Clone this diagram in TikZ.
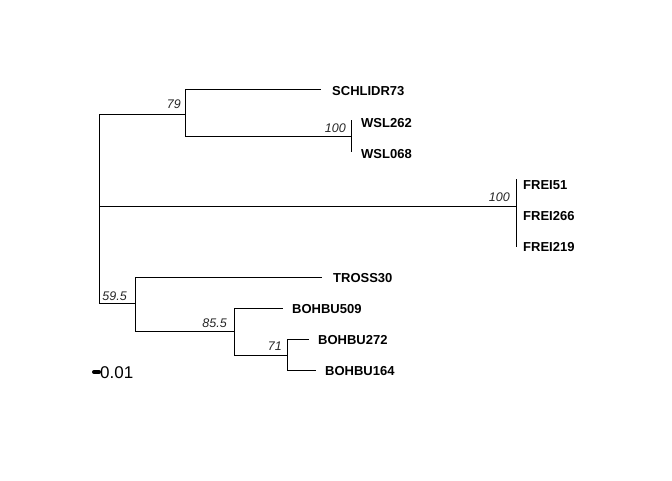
\documentclass[tikz,border=0pt]{standalone}
\usepackage{fontspec}
\setmainfont{Liberation Sans}
\begin{document}
\begin{tikzpicture}[x=1pt,y=-1pt,
  br/.style={draw=black,line width=0.9pt},
  tip/.style={anchor=west,font=\fontsize{13}{15}\selectfont\bfseries,inner sep=0pt},
  boot/.style={anchor=south east,font=\fontsize{12.5}{14}\selectfont\itshape,inner sep=0pt,text=black!85},
  scl/.style={anchor=west,font=\fontsize{17}{19}\selectfont,inner sep=0pt}]
\useasboundingbox (0,0) rectangle (672,480);
% node coordinates
\coordinate (root) at (99,206);
\coordinate (rt) at (99,114);
\coordinate (rb) at (99,303);
\coordinate (a) at (185,114);
\coordinate (at) at (185,89);
\coordinate (ab) at (185,136);
\coordinate (w) at (351,136);
\coordinate (wt) at (351,120);
\coordinate (wb) at (351,152);
\coordinate (s) at (321,89);
\coordinate (f) at (516,206);
\coordinate (ft) at (516,179);
\coordinate (fb) at (516,247);
\coordinate (b) at (135,303);
\coordinate (bt) at (135,277);
\coordinate (bb) at (135,331);
\coordinate (tr) at (322,277);
\coordinate (c) at (234,331);
\coordinate (ct) at (234,308);
\coordinate (cb) at (234,355);
\coordinate (bo509) at (283,308);
\coordinate (d) at (287,355);
\coordinate (dt) at (287,339);
\coordinate (db) at (287,370);
\coordinate (bo272) at (309,339);
\coordinate (bo164) at (316,370);
\coordinate (s1) at (94,372);
\coordinate (s2) at (99,372);
% branches
\draw[br] (rt) -- (rb);
\draw[br] (rt) -- (a);
\draw[br] (at) -- (ab);
\draw[br] (at) -- (s);
\draw[br] (ab) -- (w);
\draw[br] (wt) -- (wb);
\draw[br] (root) -- (f);
\draw[br] (ft) -- (fb);
\draw[br] (rb) -- (b);
\draw[br] (bt) -- (bb);
\draw[br] (bt) -- (tr);
\draw[br] (bb) -- (c);
\draw[br] (ct) -- (cb);
\draw[br] (ct) -- (bo509);
\draw[br] (cb) -- (d);
\draw[br] (dt) -- (db);
\draw[br] (dt) -- (bo272);
\draw[br] (db) -- (bo164);
% tips
\node[tip] (n1) at (332,91) {SCHLIDR73};
\node[tip] (n2) at (361,123) {WSL262};
\node[tip] (n3) at (361,154) {WSL068};
\node[tip] (n4) at (523,185) {FREI51};
\node[tip] (n5) at (523,216) {FREI266};
\node[tip] (n6) at (523,247) {FREI219};
\node[tip] (n7) at (333,278) {TROSS30};
\node[tip] (n8) at (292,309) {BOHBU509};
\node[tip] (n9) at (318,340) {BOHBU272};
\node[tip] (n10) at (325,371) {BOHBU164};
% bootstrap values
\node[boot] (b1) at (181,109) {79};
\node[boot] (b2) at (346,133) {100};
\node[boot] (b3) at (510,202) {100};
\node[boot] (b4) at (127,301) {59.5};
\node[boot] (b5) at (227,328) {85.5};
\node[boot] (b6) at (282,351) {71};
% scale bar
\draw[line width=4pt,line cap=round] (s1) -- (s2);
\node[scl] (sl) at (100,373) {0.01};
\end{tikzpicture}
\end{document}
